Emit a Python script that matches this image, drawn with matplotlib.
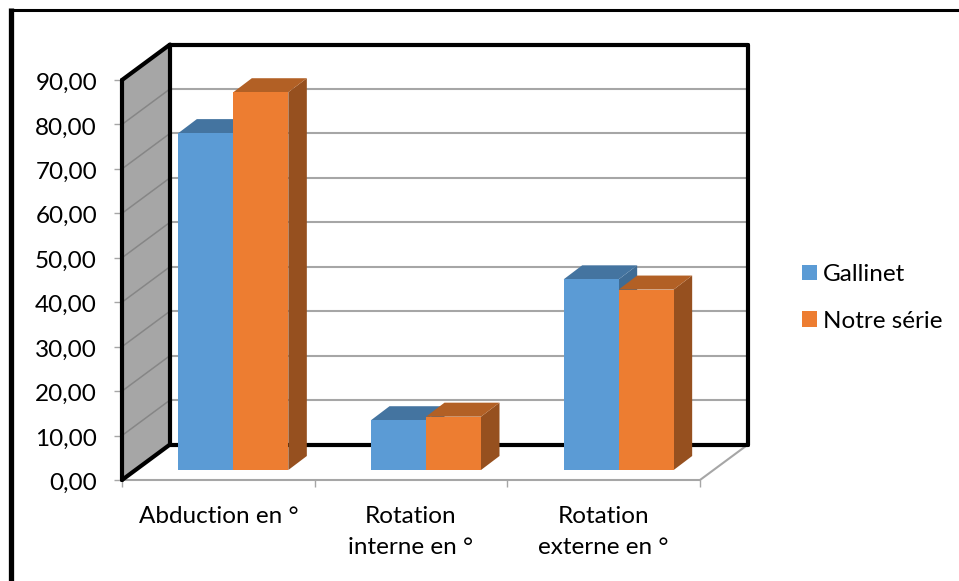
import matplotlib
matplotlib.use("Agg")
import matplotlib.pyplot as plt
from matplotlib.patches import Polygon, Patch
from matplotlib.lines import Line2D
from matplotlib.transforms import ScaledTranslation

plt.rcParams['font.family'] = ['Lato', 'DejaVu Sans']

categories = ["Abduction en °", "Rotation\ninterne en °", "Rotation\nexterne en °"]
series_names = ["Gallinet", "Notre série"]
gallinet = [75.8, 11.2, 42.9]
notre_serie = [85.0, 12.0, 40.6]
y_ticks = [0, 10, 20, 30, 40, 50, 60, 70, 80, 90]

W, H = 959, 581
fig = plt.figure(figsize=(W / 100, H / 100), dpi=100, facecolor="white")
ax = fig.add_axes([122 / W, (H - 480) / H, 578 / W, 400 / H])
ax.set_xlim(0, 3)
ax.set_ylim(0, 90)
PX = 578 / 3      # pixels per category
PY = 400 / 90     # pixels per value unit


def at(x, v, dx, dy):
    """Data position of (x, v) pushed back by dx, dy pixels of depth."""
    return (x + dx / PX, v + dy / PY)


def poly(points, z, **kw):
    ax.add_patch(Polygon(points, closed=True, zorder=z, clip_on=False, **kw))


def line(a, b, color, lw, z, cap="round"):
    ax.add_line(Line2D([a[0], b[0]], [a[1], b[1]], color=color, lw=lw, zorder=z,
                       clip_on=False, solid_capstyle=cap))


WALL = (48, 35.5)
xmax = len(categories)
top = y_ticks[-1]

# side wall
poly([at(0, 0, 0, 0), at(0, top, 0, 0), at(0, top, *WALL), at(0, 0, *WALL)], 1,
     facecolor="#A6A6A6", edgecolor="none")

# gridlines on the back wall and on the side wall
for t in y_ticks[1:-1]:
    line(at(0, t, *WALL), at(xmax, t, *WALL), "#A6A6A6", 1.5, 2)
    line(at(0, t, 0, 0), at(0, t, *WALL), "#868686", 1.1, 2)

# floor edges
line(at(xmax, 0, 0, 0), at(xmax, 0, *WALL), "#A6A6A6", 1.5, 2)
line((0, 0), (xmax, 0), "#A6A6A6", 1.5, 2)

# heavy black box
BK = 3.0
line(at(0, top, 0, 0), at(0, top, *WALL), "black", BK, 3)
line(at(0, top, *WALL), at(xmax, top, *WALL), "black", BK, 3)
line(at(0, 0, *WALL), at(0, top, *WALL), "black", BK, 3)
line(at(xmax, 0, *WALL), at(xmax, top, *WALL), "black", BK, 3)
line(at(0, 0, *WALL), at(xmax, 0, *WALL), "black", BK, 3)
line((0, 0), at(0, 0, *WALL), "black", BK, 3)
line((0, 0), (0, top), "black", BK, 3)

# bars
BAR_W = 55 / PX
NEAR = (15, 10)
FAR = (33.5, 24)
colors = [("#5B9BD5", "#4474A0", "#3F6C95"), ("#ED7D31", "#B26025", "#96501F")]
z = 4
for s, vals in enumerate([gallinet, notre_serie]):
    face, tcol, scol = colors[s]
    for i, v in enumerate(vals):
        left = i + 0.5 - BAR_W + s * BAR_W
        right = left + BAR_W
        base = 0
        poly([at(right, base, *NEAR), at(right, v, *NEAR), at(right, v, *FAR), at(right, base, *FAR)],
             z + i * 3, facecolor=scol, edgecolor="none")
        poly([at(left, v, *NEAR), at(right, v, *NEAR), at(right, v, *FAR), at(left, v, *FAR)],
             z + i * 3 + 0.1, facecolor=tcol, edgecolor="none")
        x0, y0 = at(left, base, *NEAR)
        ax.bar(x0, v, width=BAR_W, bottom=y0, align="edge", color=face, edgecolor="none",
               zorder=z + i * 3 + 0.2, clip_on=False)
    z += 0.5

# axes furniture
for sp in ax.spines.values():
    sp.set_visible(False)
ax.patch.set_visible(False)
ax.set_yticks(y_ticks)
ax.set_yticklabels([f"{t:.2f}".replace(".", ",") for t in y_ticks])
ax.set_xticks([0, 1, 2, 3])
ax.set_xticklabels([])
ax.set_xticks([0.5, 1.5, 2.5], minor=True)
ax.set_xticklabels(categories, minor=True, linespacing=1.58)
FS = 17.5
ax.tick_params(axis="y", length=6, width=1, color="#A6A6A6", labelsize=FS, pad=12, labelcolor="black")
ax.tick_params(axis="x", which="major", length=5, width=1, color="#A6A6A6")
ax.tick_params(axis="x", which="minor", length=0, labelsize=FS, pad=19, labelcolor="black")
shift = ScaledTranslation(0, -1.5 / 72 * 0.72, fig.dpi_scale_trans)
for lab in ax.get_yticklabels():
    lab.set_transform(lab.get_transform() + shift)

# legend
handles = [Patch(facecolor=colors[k][0], edgecolor="none") for k in range(2)]
fig.legend(handles, series_names, loc="center left", bbox_to_anchor=(802 / W, (H - 298) / H),
           bbox_transform=fig.transFigure, frameon=False, fontsize=FS, handlelength=0.62,
           handleheight=0.62, handletextpad=0.25, labelspacing=1.06, borderpad=0, borderaxespad=0)

# outer frame of the picture
fig.add_artist(Line2D([11.4 / W, 11.4 / W], [0, (H - 8) / H], color="black", lw=3.8,
                      transform=fig.transFigure, solid_capstyle="butt"))
fig.add_artist(Line2D([9 / W, 1], [(H - 9.5) / H, (H - 9.5) / H], color="black", lw=2.2,
                      transform=fig.transFigure, solid_capstyle="butt"))

fig.savefig("out.png", dpi=100, facecolor="white")
